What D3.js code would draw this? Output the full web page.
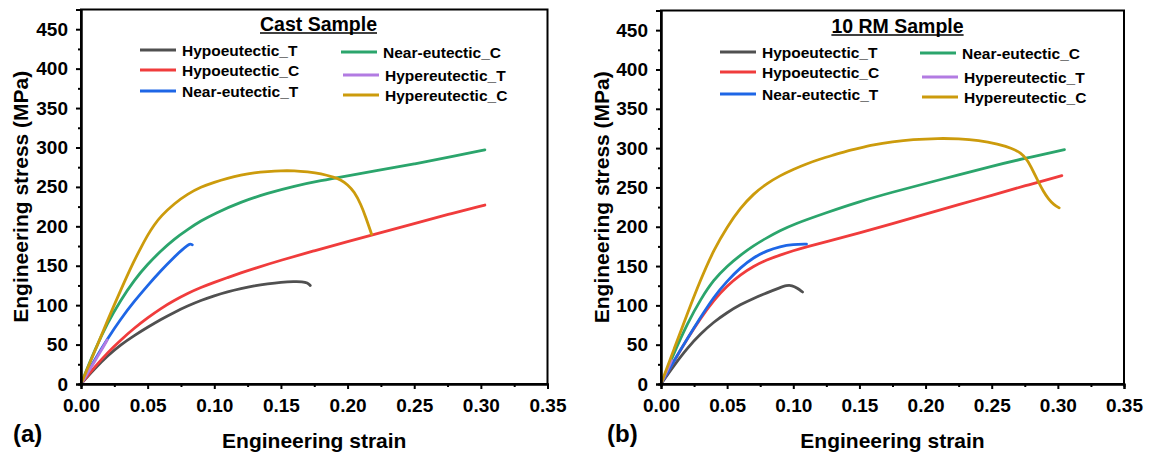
<!DOCTYPE html>
<html><head><meta charset="utf-8">
<script src="https://cdn.jsdelivr.net/npm/d3@7"></script>
<style>
html,body{margin:0;padding:0;background:#fff;}
svg{display:block;}
text{font-family:"Liberation Sans",Arial,sans-serif;font-weight:bold;fill:#000;}
</style></head>
<body>
<svg id="chart" width="1151" height="456"></svg>
<script>
// ---------- data ----------
const seriesNames = ["Hypoeutectic_T","Hypoeutectic_C","Near-eutectic_T","Near-eutectic_C","Hypereutectic_T","Hypereutectic_C"];
const seriesColors = ["#505050","#f03c3c","#1e66e6","#2ba56c","#b27be2","#cc9b0c"];
const panelTitles = ["Cast Sample","10 RM Sample"];
const panelLetters = ["(a)","(b)"];
const strainTicks = [0,0.05,0.10,0.15,0.20,0.25,0.30,0.35];
const stressTicks = [0,50,100,150,200,250,300,350,400,450];
const xTitle = "Engineering strain";
const yTitle = "Engineering stress (MPa)";

// Cast sample curves: [strain, stress]
const castHypoT = [[0,0],[0.01,19],[0.02,36],[0.03,50],[0.04,61.5],[0.05,72],[0.06,82],[0.07,91],[0.08,99],[0.09,106],[0.10,112],[0.11,117],[0.12,121],[0.13,124.5],[0.14,127],[0.15,129],[0.16,130],[0.166,129.8],[0.17,128.5],[0.172,125]];
const castHypoC = [[0,0],[0.01,21],[0.02,40],[0.03,56],[0.04,71],[0.05,84],[0.06,96],[0.07,106],[0.08,115],[0.09,122.5],[0.10,129],[0.11,135],[0.12,141],[0.13,146.5],[0.15,157],[0.175,169],[0.20,180.5],[0.225,192],[0.25,203.5],[0.275,215],[0.303,227]];
const castNearT = [[0,0],[0.01,30],[0.02,58],[0.03,83],[0.04,105],[0.05,125],[0.06,144],[0.07,161],[0.075,169],[0.08,176],[0.082,178],[0.0835,176.5]];
const castNearC = [[0,0],[0.01,42],[0.02,78],[0.03,107],[0.04,132],[0.05,152],[0.06,169],[0.07,184],[0.08,196],[0.09,207],[0.10,216],[0.12,231],[0.14,242],[0.16,251],[0.18,258],[0.20,264],[0.22,270],[0.25,279],[0.28,289],[0.303,297]];
const castHyperT = [[0,0],[0.005,14],[0.01,28],[0.015,42],[0.0197,56]];
const castHyperC = [[0,0],[0.01,40],[0.02,81],[0.03,120],[0.04,157],[0.045,173],[0.05,189],[0.055,202],[0.06,213],[0.07,229],[0.08,241],[0.09,250],[0.10,256],[0.11,261],[0.12,265],[0.13,268],[0.14,269.5],[0.15,270.5],[0.16,270.5],[0.17,269],[0.18,267],[0.19,262],[0.195,259],[0.20,253],[0.205,244],[0.21,228],[0.214,210],[0.218,190]];

// 10 RM sample curves
const rmHypoT = [[0,0],[0.01,24],[0.02,46],[0.03,64],[0.04,79],[0.05,91],[0.06,101],[0.07,109],[0.08,116],[0.09,122.5],[0.095,125.5],[0.099,125.5],[0.103,122],[0.107,117]];
const rmHypoC = [[0,0],[0.01,30],[0.02,58],[0.03,84],[0.04,107],[0.05,125],[0.06,139],[0.07,150],[0.08,158],[0.09,164],[0.10,169.5],[0.11,174.5],[0.125,181],[0.15,192],[0.175,204],[0.20,216],[0.225,228],[0.25,240],[0.275,252],[0.303,265]];
const rmNearT = [[0,0],[0.01,30],[0.02,58],[0.03,85],[0.04,111],[0.05,131],[0.06,148],[0.07,161],[0.08,169.5],[0.09,175],[0.10,177.5],[0.11,178]];
const rmNearC = [[0,0],[0.01,40],[0.02,77],[0.03,108],[0.04,133],[0.05,150],[0.06,164],[0.07,176],[0.08,186],[0.09,195],[0.10,203],[0.125,218],[0.15,232],[0.175,244],[0.20,255],[0.225,266],[0.25,277],[0.275,287],[0.305,298]];
const rmHyperT = [[0,0],[0.004,15],[0.008,30]];
const rmHyperC = [[0,0],[0.01,45],[0.02,90],[0.03,133],[0.04,171],[0.05,200],[0.06,224],[0.07,242],[0.08,255],[0.09,265],[0.10,273],[0.11,280],[0.12,286],[0.13,291],[0.14,296],[0.15,300],[0.16,304],[0.175,308],[0.19,311],[0.21,312.5],[0.225,312],[0.24,310],[0.255,305],[0.265,300],[0.272,294],[0.277,285],[0.281,272],[0.285,258],[0.289,245],[0.293,235],[0.297,228],[0.301,224]];

const castSeries = [castHypoT,castHypoC,castNearT,castNearC,castHyperT,castHyperC];
const rmSeries = [rmHypoT,rmHypoC,rmNearT,rmNearC,rmHyperT,rmHyperC];

// ---------- layout ----------
const svg = d3.select("#chart");
const panels = [
  {series: castSeries, x0: 81, x1: 547.5, yTop: 9.5, ttlX: 318.5, ttlY: 31,
   yTitleX: 28, letterX: 13, legX1: 140, legX2: 341, legRows1:[50,70,91], legRows2:[52,75,95]},
  {series: rmSeries, x0: 661, x1: 1124, yTop: 10.5, ttlX: 897.5, ttlY: 33,
   yTitleX: 609, letterX: 607, legX1: 720, legX2: 920, legRows1:[52,72,94], legRows2:[53,77,97]}
];
const yBottom = 384;

panels.forEach((p, pi) => {
  const x = d3.scaleLinear().domain([0,0.35]).range([p.x0, p.x1]);
  const y = d3.scaleLinear().domain([0,475]).range([yBottom, p.yTop]);
  const g = svg.append("g");

  // curves
  const line = d3.line().x(d=>x(d[0])).y(d=>y(d[1])).curve(d3.curveBasis);
  p.series.forEach((s, i) => {
    g.append("path").attr("d", line(s)).attr("fill","none")
      .attr("stroke", seriesColors[i]).attr("stroke-width", 2.8)
      .attr("stroke-linecap","round").attr("stroke-linejoin","round");
  });

  // frame
  g.append("rect").attr("x", p.x0).attr("y", p.yTop)
    .attr("width", p.x1 - p.x0).attr("height", yBottom - p.yTop)
    .attr("fill","none").attr("stroke","#000").attr("stroke-width",2);

  // x axis
  const xAxis = d3.axisBottom(x).tickValues(strainTicks).tickFormat(d3.format(".2f")).tickSize(5).tickPadding(10);
  const xa = g.append("g").attr("transform",`translate(0,${yBottom})`).call(xAxis);
  const xMinor = d3.axisBottom(x).tickValues(d3.range(0.025,0.35,0.05)).tickFormat("").tickSize(3);
  g.append("g").attr("transform",`translate(0,${yBottom})`).call(xMinor);

  // y axis
  const yAxis = d3.axisLeft(y).tickValues(stressTicks).tickFormat(d3.format("d")).tickSize(5).tickPadding(8);
  const ya = g.append("g").attr("transform",`translate(${p.x0},0)`).call(yAxis);
  const yMinor = d3.axisLeft(y).tickValues(d3.range(25,475,50)).tickFormat("").tickSize(3);
  g.append("g").attr("transform",`translate(${p.x0},0)`).call(yMinor);

  g.selectAll(".domain").attr("stroke","#000").attr("stroke-width",2).attr("fill","none");
  g.selectAll(".tick line").attr("stroke","#000").attr("stroke-width",2);
  xa.selectAll(".tick text").attr("font-size",19).attr("font-family","Liberation Sans, Arial, sans-serif").attr("font-weight","bold").attr("fill","#000").attr("dy","0.71em");
  ya.selectAll(".tick text").attr("font-size",19).attr("font-family","Liberation Sans, Arial, sans-serif").attr("font-weight","bold").attr("fill","#000");

  // axis titles
  g.append("text").attr("x",(p.x0+p.x1)/2).attr("y",448).attr("text-anchor","middle")
    .attr("font-size",21).text(xTitle);
  g.append("text").attr("transform",`translate(${p.yTitleX},${(yBottom+p.yTop)/2}) rotate(-90)`)
    .attr("text-anchor","middle").attr("font-size",21).text(yTitle);
  g.append("text").attr("x",p.letterX).attr("y",442).attr("font-size",24).text(panelLetters[pi]);

  // panel title (underlined)
  const t = g.append("text").attr("x",p.ttlX).attr("y",p.ttlY).attr("text-anchor","middle")
    .attr("font-size",19.5).text(panelTitles[pi]);
  const tw = t.node().getComputedTextLength();
  g.append("line").attr("x1",p.ttlX - tw/2).attr("x2",p.ttlX + tw/2)
    .attr("y1",p.ttlY+2).attr("y2",p.ttlY+2).attr("stroke","#000").attr("stroke-width",1.5);

  // legend
  seriesNames.forEach((nm, i) => {
    const col = i < 3 ? 0 : 1;
    const row = i % 3;
    const lx = col === 0 ? p.legX1 : p.legX2 + (row > 0 ? 2 : 0);
    const ly = col === 0 ? p.legRows1[row] : p.legRows2[row];
    g.append("line").attr("x1",lx).attr("x2",lx+36).attr("y1",ly).attr("y2",ly)
      .attr("stroke",seriesColors[i]).attr("stroke-width",3);
    g.append("text").attr("x",lx+42).attr("y",ly+5.5).attr("font-size",15.5).text(nm);
  });
});
</script>
</body></html>
